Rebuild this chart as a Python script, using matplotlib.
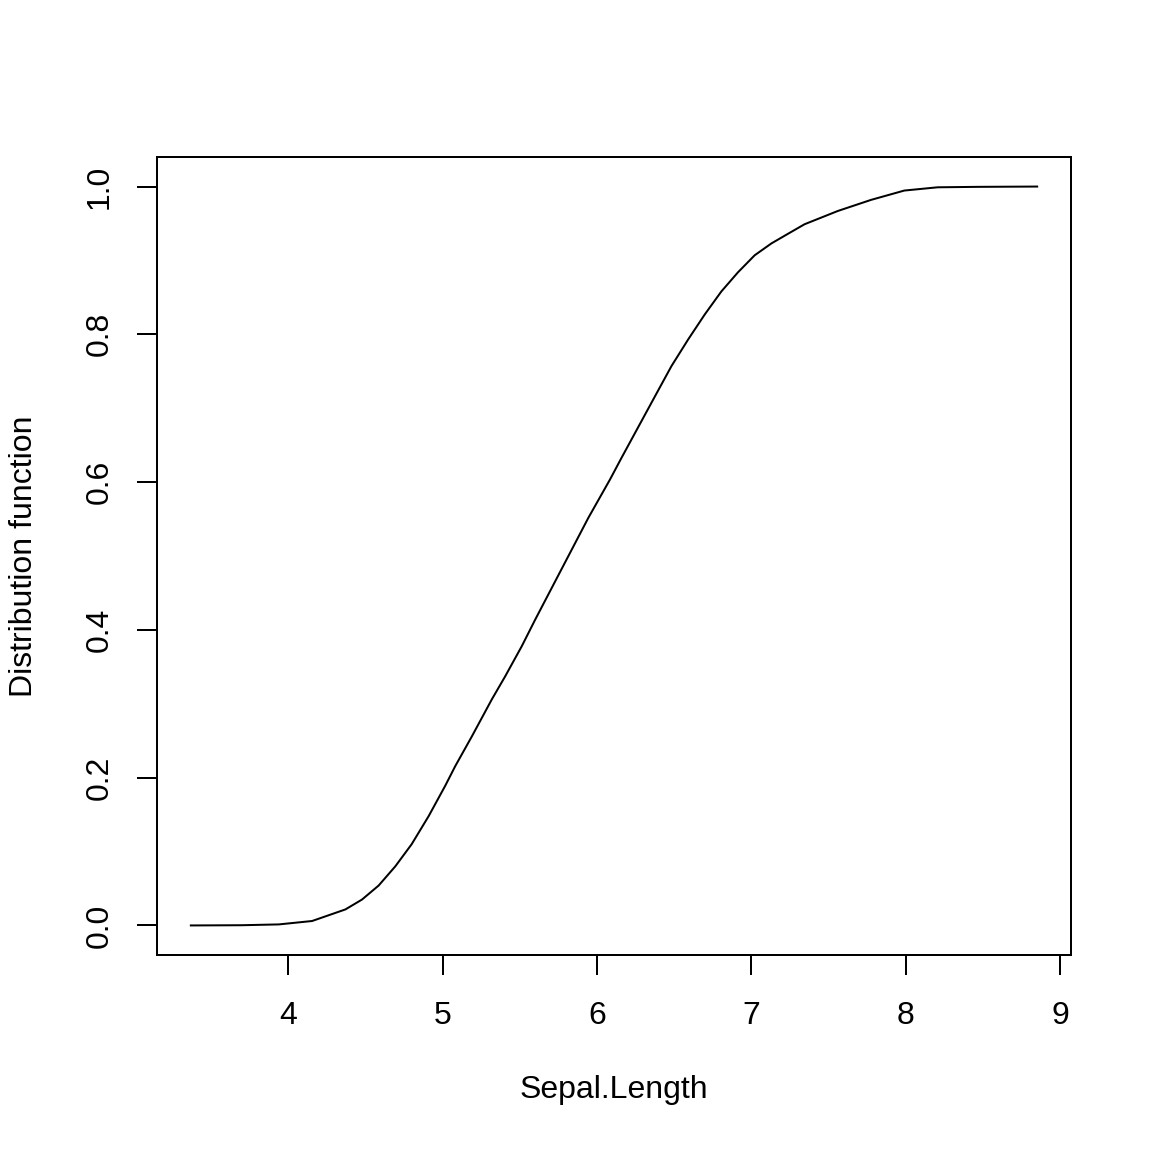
import matplotlib
matplotlib.use("Agg")
import matplotlib.pyplot as plt

plt.rcParams['font.family'] = ['Liberation Sans', 'DejaVu Sans']

sepal_length = [3.37, 3.70, 3.94, 4.155, 4.371, 4.478, 4.586, 4.694, 4.80, 4.91, 5.017,
                5.082, 5.19, 5.319, 5.405, 5.513, 5.60, 5.814, 5.944, 6.084, 6.159, 6.375,
                6.482, 6.59, 6.698, 6.805, 6.913, 7.021, 7.129, 7.236, 7.344, 7.56, 7.775,
                7.99, 8.206, 8.465, 8.85]
cdf = [0.0, 0.0003, 0.0014, 0.006, 0.0217, 0.035, 0.054, 0.080, 0.110, 0.148, 0.189,
       0.2156, 0.256, 0.306, 0.337, 0.378, 0.414, 0.4997, 0.5517, 0.6035, 0.633, 0.716,
       0.757, 0.793, 0.827, 0.858, 0.884, 0.907, 0.923, 0.936, 0.949, 0.967, 0.982,
       0.9946, 0.999, 0.9996, 1.0]
x_ticks = [4, 5, 6, 7, 8, 9]
y_ticks = [0.0, 0.2, 0.4, 0.6, 0.8, 1.0]
y_tick_labels = ["0.0", "0.2", "0.4", "0.6", "0.8", "1.0"]

fig = plt.figure(figsize=(8, 8), dpi=144)
ax = fig.add_axes([157/1152, 1 - 955/1152, (1071-157)/1152, (955-157)/1152])
ax.plot(sepal_length, cdf, color='black', lw=1.0, solid_joinstyle='round')

span = sepal_length[-1] - sepal_length[0]
ax.set_xlim(sepal_length[0] - 0.04*span, sepal_length[-1] + 0.04*span)
ax.set_ylim(-0.04, 1.04)

fs = 16
ax.set_xticks(x_ticks)
ax.set_yticks(y_ticks)
ax.set_yticklabels(y_tick_labels)
ax.tick_params(axis='both', direction='out', length=10, width=1.0, labelsize=fs, color='black')
ax.tick_params(axis='x', pad=13)
ax.tick_params(axis='y', pad=11, labelrotation=90)
for lab in ax.get_yticklabels():
    lab.set_va('center')
for s in ax.spines.values():
    s.set_linewidth(1.0)
    s.set_color('black')

ax.set_xlabel("Sepal.Length", fontsize=fs)
ax.set_ylabel("Distribution function", fontsize=fs)
ax.xaxis.set_label_coords(0.5, (955-1090)/798)
ax.xaxis.label.set_va('center')
ax.yaxis.set_label_coords((24-157)/914, 0.5)
ax.yaxis.label.set_va('center')

fig.savefig("out.png", dpi=144, facecolor='white')
